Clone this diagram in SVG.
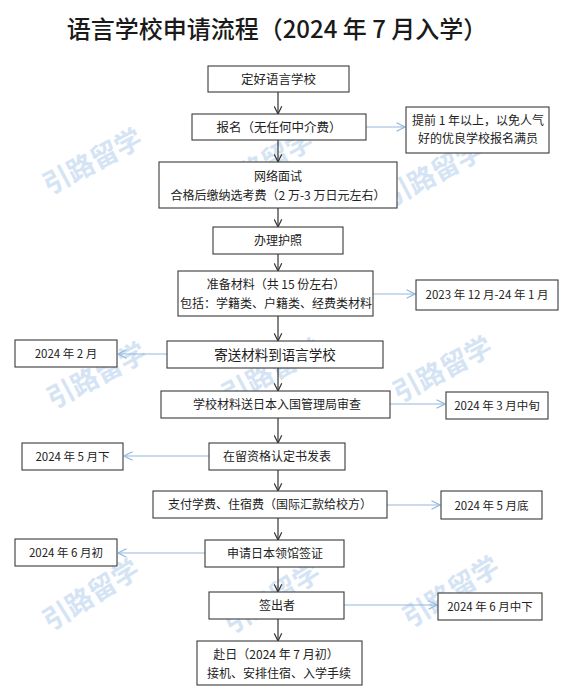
<svg xmlns="http://www.w3.org/2000/svg" width="576" height="692" viewBox="0 0 576 692">
<defs>
<style>
.bx{fill:#fff;stroke:#3a3a3a;stroke-width:1.1}
.t{font-family:"Microsoft YaHei","Noto Sans CJK SC","Noto Sans",sans-serif;font-size:12px;fill:#222;text-anchor:middle}
.s{font-size:11.5px}
.k{stroke:#333;stroke-width:1.2;fill:none}
.b{stroke:#93b8dc;stroke-width:1.2;fill:none}
.wm{font-family:"Noto Sans CJK SC",sans-serif;font-size:27px;font-weight:bold;fill:#d5e4f4;text-anchor:middle}
.title{font-family:"Noto Sans CJK SC",sans-serif;font-size:24px;font-weight:500;fill:#1a1a1a;text-anchor:middle}
</style>
<marker id="ak" viewBox="0 0 10 10" refX="9.5" refY="5" markerWidth="9" markerHeight="9" markerUnits="userSpaceOnUse" orient="auto">
<path d="M1,0.8 L9.5,5 L1,9.2" fill="none" stroke="#333" stroke-width="1.3"/>
</marker>
<marker id="ab" viewBox="0 0 10 10" refX="9.5" refY="5" markerWidth="10" markerHeight="10" markerUnits="userSpaceOnUse" orient="auto">
<path d="M1,0.8 L9.5,5 L1,9.2" fill="none" stroke="#93b8dc" stroke-width="1.2"/>
</marker>
</defs>
<rect width="576" height="692" fill="#fff"/>
<g id="watermarks">
<text class="wm" transform="translate(97,170) rotate(-28)">引路留学</text>
<text class="wm" transform="translate(268,172) rotate(-28)">引路留学</text>
<text class="wm" transform="translate(438,182) rotate(-28)">引路留学</text>
<text class="wm" transform="translate(101,384) rotate(-28)">引路留学</text>
<text class="wm" transform="translate(276,380) rotate(-28)">引路留学</text>
<text class="wm" transform="translate(447,378) rotate(-28)">引路留学</text>
<text class="wm" transform="translate(96,603) rotate(-32)">引路留学</text>
<text class="wm" transform="translate(277,606) rotate(-32)">引路留学</text>
<text class="wm" transform="translate(456,600) rotate(-32)">引路留学</text>
</g>
<text id="title" class="title" x="277" y="38">语言学校申请流程（2024 年 7 月入学）</text>
<g id="connectors">
<line class="k" x1="278" y1="92" x2="278" y2="114" marker-end="url(#ak)"/>
<line class="k" x1="278" y1="140" x2="278" y2="162" marker-end="url(#ak)"/>
<line class="k" x1="278" y1="208" x2="278" y2="227" marker-end="url(#ak)"/>
<line class="k" x1="278" y1="254" x2="278" y2="271" marker-end="url(#ak)"/>
<line class="k" x1="278" y1="316" x2="278" y2="341" marker-end="url(#ak)"/>
<line class="k" x1="278" y1="368" x2="278" y2="391" marker-end="url(#ak)"/>
<line class="k" x1="278" y1="418" x2="278" y2="443" marker-end="url(#ak)"/>
<line class="k" x1="278" y1="470" x2="278" y2="491" marker-end="url(#ak)"/>
<line class="k" x1="278" y1="518" x2="278" y2="540" marker-end="url(#ak)"/>
<line class="k" x1="278" y1="567" x2="278" y2="592" marker-end="url(#ak)"/>
<line class="k" x1="278" y1="619" x2="278" y2="641" marker-end="url(#ak)"/>
<line class="b" x1="366" y1="127" x2="405" y2="127" marker-end="url(#ab)"/>
<line class="b" x1="373" y1="294" x2="415" y2="294" marker-end="url(#ab)"/>
<line class="b" x1="167" y1="354" x2="118" y2="354" marker-end="url(#ab)"/>
<line class="b" x1="390" y1="404" x2="445" y2="404" marker-end="url(#ab)"/>
<line class="b" x1="209" y1="456" x2="124" y2="456" marker-end="url(#ab)"/>
<line class="b" x1="387" y1="505" x2="440" y2="505" marker-end="url(#ab)"/>
<line class="b" x1="205" y1="553" x2="118" y2="553" marker-end="url(#ab)"/>
<line class="b" x1="344" y1="605" x2="437" y2="605" marker-end="url(#ab)"/>
</g>
<g id="n1"><rect class="bx" x="208" y="66" width="141" height="26"/><text class="t" x="278.5" y="83.5" style="font-size:12.5px">定好语言学校</text></g>
<g id="n2"><rect class="bx" x="192" y="114" width="174" height="26"/><text class="t" x="279" y="131.5" style="font-size:12.5px">报名（无任何中介费）</text></g>
<g id="n3"><rect class="bx" x="159" y="162" width="238" height="46"/><text class="t" x="278" y="181">网络面试</text><text class="t" x="278" y="200">合格后缴纳选考费（2 万-3 万日元左右）</text></g>
<g id="n4"><rect class="bx" x="213" y="227" width="130" height="27"/><text class="t" x="278" y="245">办理护照</text></g>
<g id="n5"><rect class="bx" x="178" y="271" width="195" height="45"/><text class="t" x="276" y="289">准备材料（共 15 份左右）</text><text class="t" x="276" y="308">包括：学籍类、户籍类、经费类材料</text></g>
<g id="n6"><rect class="bx" x="167" y="341" width="216" height="27"/><text class="t" x="275" y="359.5" style="font-size:13.5px">寄送材料到语言学校</text></g>
<g id="n7"><rect class="bx" x="161" y="391" width="229" height="27"/><text class="t" x="277" y="409">学校材料送日本入国管理局审查</text></g>
<g id="n8"><rect class="bx" x="209" y="443" width="136" height="27"/><text class="t" x="277" y="461">在留资格认定书发表</text></g>
<g id="n9"><rect class="bx" x="153" y="491" width="234" height="27"/><text class="t" x="270" y="509">支付学费、住宿费（国际汇款给校方）</text></g>
<g id="n10"><rect class="bx" x="205" y="540" width="139" height="27"/><text class="t" x="275" y="558">申请日本领馆签证</text></g>
<g id="n11"><rect class="bx" x="209" y="592" width="135" height="27"/><text class="t" x="277" y="610">签出者</text></g>
<g id="n12"><rect class="bx" x="197" y="641" width="165" height="44"/><text class="t" x="276" y="659">赴日（2024 年 7 月初）</text><text class="t" x="279" y="678">接机、安排住宿、入学手续</text></g>
<g id="r1"><rect class="bx" x="406" y="107" width="143" height="46"/><text class="t" x="478" y="125">提前 1 年以上，以免人气</text><text class="t" x="478" y="143">好的优良学校报名满员</text></g>
<g id="r2"><rect class="bx" x="416" y="280" width="142" height="30"/><text class="t s" x="487" y="299">2023 年 12 月-24 年 1 月</text></g>
<g id="r3"><rect class="bx" x="446" y="392" width="102" height="27"/><text class="t s" x="497" y="410">2024 年 3 月中旬</text></g>
<g id="r4"><rect class="bx" x="441" y="491" width="101" height="28"/><text class="t s" x="491.5" y="509.5">2024 年 5 月底</text></g>
<g id="r5"><rect class="bx" x="438" y="593" width="104" height="27"/><text class="t s" x="490" y="611">2024 年 6 月中下</text></g>
<g id="l1"><rect class="bx" x="15" y="340" width="102" height="27"/><text class="t s" x="66" y="358">2024 年 2 月</text></g>
<g id="l2"><rect class="bx" x="22" y="443" width="101" height="27"/><text class="t s" x="72.5" y="461">2024 年 5 月下</text></g>
<g id="l3"><rect class="bx" x="15" y="539" width="102" height="27"/><text class="t s" x="66" y="557">2024 年 6 月初</text></g>
</svg>
